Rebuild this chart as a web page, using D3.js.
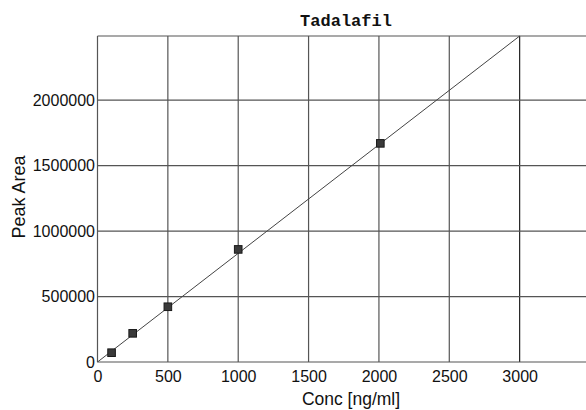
<!DOCTYPE html>
<html><head><meta charset="utf-8">
<script src="https://cdn.jsdelivr.net/npm/d3@7"></script>
<style>body{margin:0;background:#fff}svg{display:block}</style>
</head><body>
<svg id="chart" width="586" height="410"></svg>
<script>
const title = "Tadalafil";
const concs = [100, 250, 500, 1000, 2010];
const areas = [71000, 219000, 422000, 860000, 1670000];
const fitX = [0, 3000];
const fitY = [0, 2490000];
const xTicks = [0, 500, 1000, 1500, 2000, 2500, 3000];
const yTicks = [0, 500000, 1000000, 1500000, 2000000];

(function () {
const svg = d3.select("#chart");
const mL = 97.5, mT = 36, mB = 362, mR = 590;
const x = d3.scaleLinear().domain([0, 3500]).range([mL, mR]);
const y = d3.scaleLinear().domain([0, 2490000]).range([mB, mT]);
const sans = "Liberation Sans, Arial, sans-serif";

const gridCol = "#555";
svg.append("g").selectAll("line").data(xTicks.slice(1)).join("line")
  .attr("x1", d => x(d)).attr("x2", d => x(d)).attr("y1", mT).attr("y2", mB)
  .attr("stroke", (d) => d === 3000 ? "#222" : gridCol).attr("stroke-width", 1.2);
svg.append("g").selectAll("line").data(yTicks.slice(1)).join("line")
  .attr("x1", mL).attr("x2", mR).attr("y1", d => y(d)).attr("y2", d => y(d))
  .attr("stroke", gridCol).attr("stroke-width", 1.2);
svg.append("line").attr("x1", mL).attr("x2", mR).attr("y1", mT).attr("y2", mT).attr("stroke", gridCol).attr("stroke-width", 1.2);
svg.append("line").attr("x1", mL).attr("x2", mR).attr("y1", mB).attr("y2", mB).attr("stroke", gridCol).attr("stroke-width", 1.2);
svg.append("line").attr("x1", mL).attr("x2", mL).attr("y1", mT).attr("y2", mB).attr("stroke", gridCol).attr("stroke-width", 1.2);

const xAxis = d3.axisBottom(x).tickValues(xTicks).tickSize(0).tickPadding(8.5).tickFormat(d3.format("d"));
const gx = svg.append("g").attr("transform", `translate(0,${mB})`).call(xAxis);
gx.select(".domain").remove();
gx.selectAll("text").attr("font-family", sans).attr("font-size", 16).attr("fill", "#111");

const yAxis = d3.axisLeft(y).tickValues(yTicks).tickSize(0).tickPadding(2.5).tickFormat(d3.format("d"));
const gy = svg.append("g").attr("transform", `translate(${mL},0)`).call(yAxis);
gy.select(".domain").remove();
gy.selectAll("text").attr("font-family", sans).attr("font-size", 16).attr("fill", "#111");

const line = d3.line().x((d, i) => x(fitX[i])).y((d, i) => y(fitY[i]));
svg.append("path").datum(fitX).attr("d", line).attr("fill", "none").attr("stroke", "#444").attr("stroke-width", 1);

svg.append("g").selectAll("rect").data(concs).join("rect")
  .attr("x", (d) => x(d) - 3.8).attr("y", (d, i) => y(areas[i]) - 3.8)
  .attr("width", 7.6).attr("height", 7.6).attr("fill", "#3a3a3a").attr("stroke", "#1a1a1a").attr("stroke-width", 1);

svg.append("text").attr("x", 346).attr("y", 26).attr("text-anchor", "middle")
  .attr("font-family", "Liberation Mono, Courier New, monospace").attr("font-weight", "bold").attr("font-size", 17).attr("fill", "#111").text(title);
svg.append("text").attr("x", 351).attr("y", 405).attr("text-anchor", "middle")
  .attr("font-family", sans).attr("font-size", 17.5).attr("fill", "#111").text("Conc [ng/ml]");
svg.append("text").attr("transform", "translate(25,197) rotate(-90)").attr("text-anchor", "middle")
  .attr("font-family", sans).attr("font-size", 18).attr("fill", "#111").text("Peak Area");
})();
</script>
</body></html>
